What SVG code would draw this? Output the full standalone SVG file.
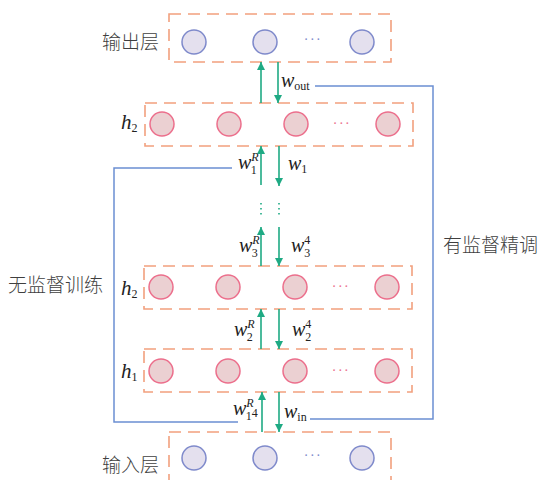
<svg xmlns="http://www.w3.org/2000/svg" width="542" height="480" viewBox="0 0 542 480">
<defs>
<style>
.box{fill:none;stroke:#f2a07e;stroke-width:1.6;stroke-dasharray:12 7}
.io{fill:#e4e0ee;stroke:#7f8acb;stroke-width:1.5}
.hid{fill:#ebd0d2;stroke:#ec6f8c;stroke-width:1.5}
.arr{stroke:#1faa84;stroke-width:1.6;fill:none}
.dot{stroke:#1faa84;stroke-width:1.6;stroke-dasharray:1.5 3.5;fill:none}
.blue{stroke:#6b8fd2;stroke-width:1.5;fill:none}
.cn{font-family:"Noto Sans CJK SC","Noto Sans CJK JP",sans-serif;font-size:19px;font-weight:300;fill:#3f3f3f}
.m{font-family:"Liberation Serif",serif;font-style:italic;fill:#222}
.w{font-size:20px}
.s{font-family:"Liberation Serif",serif;font-style:normal;font-size:12px}
.sp{font-family:"Liberation Serif",serif;font-style:italic;font-size:12px}
.dio{font-family:"Liberation Serif",serif;font-size:14px;fill:#7f8acb;letter-spacing:1.5px}
.dh{font-family:"Liberation Serif",serif;font-size:14px;fill:#ec6f8c;letter-spacing:1.5px}
</style>
<marker id="ah" viewBox="0 0 10 10" refX="10" refY="5" markerWidth="8" markerHeight="8" markerUnits="userSpaceOnUse" orient="auto">
<path d="M0,0 L10,5 L0,10 z" fill="#1faa84"/>
</marker>
</defs>

<g id="output-layer">
<rect class="box" x="169" y="14" width="222" height="48"/>
<circle class="io" cx="194" cy="42" r="12"/>
<circle class="io" cx="265" cy="42" r="12"/>
<text class="dio" x="313" y="44" text-anchor="middle">···</text>
<circle class="io" cx="362" cy="42" r="12"/>
<text class="cn" x="102" y="49">输出层</text>
</g>

<g id="h2-top">
<rect class="box" x="145" y="103" width="268" height="43"/>
<circle class="hid" cx="162" cy="124" r="12"/>
<circle class="hid" cx="229" cy="124" r="12"/>
<circle class="hid" cx="296" cy="124" r="12"/>
<text class="dh" x="342" y="128" text-anchor="middle">···</text>
<circle class="hid" cx="388" cy="124" r="12"/>
<text class="m" x="121" y="129" font-size="21">h<tspan class="s" dy="3">2</tspan></text>
</g>

<g id="h2-mid">
<rect class="box" x="144" y="266" width="268" height="43"/>
<circle class="hid" cx="161" cy="287" r="12"/>
<circle class="hid" cx="228" cy="287" r="12"/>
<circle class="hid" cx="295" cy="287" r="12"/>
<text class="dh" x="341" y="291" text-anchor="middle">···</text>
<circle class="hid" cx="387" cy="287" r="12"/>
<text class="m" x="121" y="295" font-size="21">h<tspan class="s" dy="3">2</tspan></text>
</g>

<g id="h1">
<rect class="box" x="144" y="349" width="268" height="43"/>
<circle class="hid" cx="161" cy="371" r="12"/>
<circle class="hid" cx="228" cy="371" r="12"/>
<circle class="hid" cx="295" cy="371" r="12"/>
<text class="dh" x="341" y="375" text-anchor="middle">···</text>
<circle class="hid" cx="387" cy="371" r="12"/>
<text class="m" x="121" y="378" font-size="21">h<tspan class="s" dy="3">1</tspan></text>
</g>

<g id="input-layer">
<rect class="box" x="169" y="432" width="222" height="52"/>
<circle class="io" cx="194" cy="458" r="12"/>
<circle class="io" cx="265" cy="458" r="12"/>
<text class="dio" x="313" y="460" text-anchor="middle">···</text>
<circle class="io" cx="362" cy="458" r="12"/>
<text class="cn" x="102" y="472">输入层</text>
</g>

<g id="side-labels">
<text class="cn" x="8" y="292">无监督训练</text>
<text class="cn" x="443" y="252">有监督精调</text>
</g>

<g id="connectors">
<line class="arr" x1="261" y1="103" x2="261" y2="62" marker-end="url(#ah)"/>
<line class="arr" x1="278" y1="62" x2="278" y2="103" marker-end="url(#ah)"/>
<line class="arr" x1="261" y1="185" x2="261" y2="146" marker-end="url(#ah)"/>
<line class="arr" x1="279" y1="146" x2="279" y2="186" marker-end="url(#ah)"/>
<line class="dot" x1="261" y1="203" x2="261" y2="216"/>
<line class="dot" x1="279" y1="203" x2="279" y2="216"/>
<line class="arr" x1="261" y1="266" x2="261" y2="227" marker-end="url(#ah)"/>
<line class="arr" x1="279" y1="227" x2="279" y2="266" marker-end="url(#ah)"/>
<line class="arr" x1="261" y1="349" x2="261" y2="309" marker-end="url(#ah)"/>
<line class="arr" x1="279" y1="309" x2="279" y2="349" marker-end="url(#ah)"/>
<line class="arr" x1="262" y1="432" x2="262" y2="392" marker-end="url(#ah)"/>
<line class="arr" x1="279" y1="392" x2="279" y2="432" marker-end="url(#ah)"/>
<polyline class="blue" points="315,86 433,86 433,419 310,419"/>
<polyline class="blue" points="232,168 114,168 114,422 238,422"/>
</g>

<g id="weight-labels">
<text class="m w" x="281" y="87">w<tspan class="s" dy="3">out</tspan></text>
<text class="m w" x="238" y="169">w<tspan class="sp" dy="-8.5">R</tspan><tspan class="s" dx="-8" dy="13">1</tspan></text>
<text class="m w" x="288" y="170">w<tspan class="s" dy="3">1</tspan></text>
<text class="m w" x="239" y="252">w<tspan class="sp" dy="-8.5">R</tspan><tspan class="s" dx="-8" dy="13">3</tspan></text>
<text class="m w" x="291" y="252">w<tspan class="s" dy="-8.5">4</tspan><tspan class="s" dx="-6" dy="13">3</tspan></text>
<text class="m w" x="234" y="336">w<tspan class="sp" dy="-8.5">R</tspan><tspan class="s" dx="-8" dy="13">2</tspan></text>
<text class="m w" x="292" y="336">w<tspan class="s" dy="-8.5">4</tspan><tspan class="s" dx="-6" dy="13">2</tspan></text>
<text class="m w" x="233" y="415">w<tspan class="sp" dy="-8.5">R</tspan><tspan class="s" dx="-8" dy="13">1</tspan><tspan class="s" font-size="8.5" dy="-3">4</tspan></text>
<text class="m w" x="284" y="418">w<tspan class="s" dy="3">in</tspan></text>
</g>
</svg>
